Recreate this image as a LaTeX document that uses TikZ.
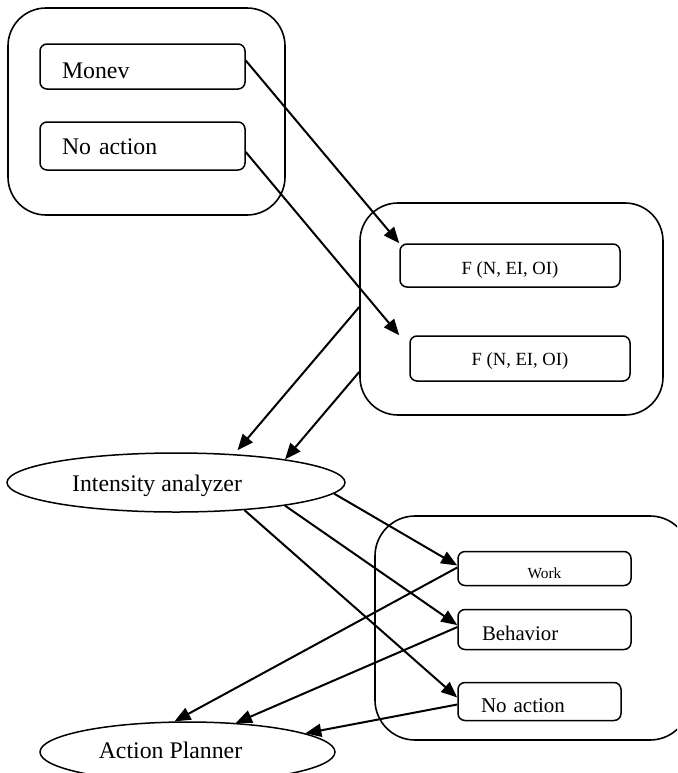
\documentclass[tikz,border=0pt]{standalone}
\usepackage{fontspec}
\setmainfont{Liberation Serif}
\usetikzlibrary{arrows.meta,shapes.geometric}
\begin{document}
\begin{tikzpicture}[x=0.5pt,y=-0.5pt,
  outerbox/.style={draw,line width=0.8pt,rounded corners=19pt,inner sep=0pt},
  innerbox/.style={draw,line width=0.75pt,rounded corners=3.5pt,inner sep=0pt,text height=0.66em,text depth=0pt},
  leftbox/.style={innerbox,align=left,inner xsep=#1},
  oval/.style={draw,ellipse,line width=0.75pt,inner sep=0pt,text height=0.66em,text depth=0pt},
  conn/.style={line width=1pt,-{Triangle[length=8pt,width=6.5pt]}},
  bigfont/.style={font=\fontsize{11.9}{14}\selectfont},
  bigfont]
\clip (0,0) rectangle (677,773);
% group 1
\node[outerbox, minimum width=138.5pt, minimum height=103.5pt] (g1) at (146.5,111.5) {};
\node[leftbox=11pt, text width=80.5pt, minimum height=22.5pt] (mon) at (142.5,66.5) {\raisebox{-2.7pt}{Monev}};
\node[leftbox=11pt, text width=80.5pt, minimum height=24pt] (noa) at (142.5,146) {\raisebox{-1pt}{No action}};
% group 2
\node[outerbox, minimum width=151.5pt, minimum height=106pt] (g2) at (511.5,309) {};
\node[innerbox, minimum width=110pt, minimum height=21.5pt, font=\fontsize{9.3}{11}\selectfont] (f1) at (510,265.5) {\raisebox{-1.2pt}{F (N, EI, OI)}};
\node[innerbox, minimum width=110pt, minimum height=22.5pt, font=\fontsize{9.3}{11}\selectfont] (f2) at (520,358.5) {F (N, EI, OI)};
% ellipses
\node[oval, minimum width=169pt, minimum height=29.5pt] (ia) at (176,482.5) {\raisebox{-1pt}{Intensity analyzer}\rule{19pt}{0pt}};
\node[oval, minimum width=147.5pt, minimum height=30pt] (ap) at (187.5,752) {Action Planner\rule{17pt}{0pt}};
% group 3
\node[outerbox, rounded corners=20pt, minimum width=157.5pt, minimum height=112pt] (g3) at (532.5,628) {};
\node[innerbox, minimum width=86.5pt, minimum height=17pt, font=\fontsize{7.7}{9}\selectfont] (work) at (544.5,568.5) {\raisebox{-1.7pt}{Work}};
\node[leftbox=12pt, text width=62.5pt, minimum height=20pt, font=\fontsize{10.4}{12}\selectfont] (beh) at (544.5,629.5) {\raisebox{-2.3pt}{Behavior}};
\node[leftbox=11.5pt, text width=58.5pt, minimum height=19pt, font=\fontsize{10.5}{12}\selectfont] (noa3) at (539.5,701.5) {\raisebox{-2.3pt}{No action}};
% connectors
\draw[conn] ([yshift=3pt]mon.east) -- (f1.north west);
\draw[conn] ([yshift=-3pt]noa.east) -- ([xshift=-5pt]f2.north west);
\draw[conn, shorten >=2.5pt] ([yshift=1pt]g2.west) -- (ia.26);
\draw[conn] ([yshift=-31.5pt]g2.west) -- (ia.12);
\draw[conn] (ia.-4) -- ([yshift=1.5pt]work.west);
\draw[conn] (ia.-12) -- ([yshift=2.2pt]beh.west);
\draw[conn] (ia.-22) -- ([yshift=2pt]noa3.west);
\draw[conn] ([yshift=0.5pt]work.west) -- (ap.113);
\draw[conn] ([yshift=1.2pt]beh.west) -- (ap.31);
\draw[conn] ([yshift=-1.5pt]noa3.west) -- (ap.9);
\end{tikzpicture}
\end{document}
